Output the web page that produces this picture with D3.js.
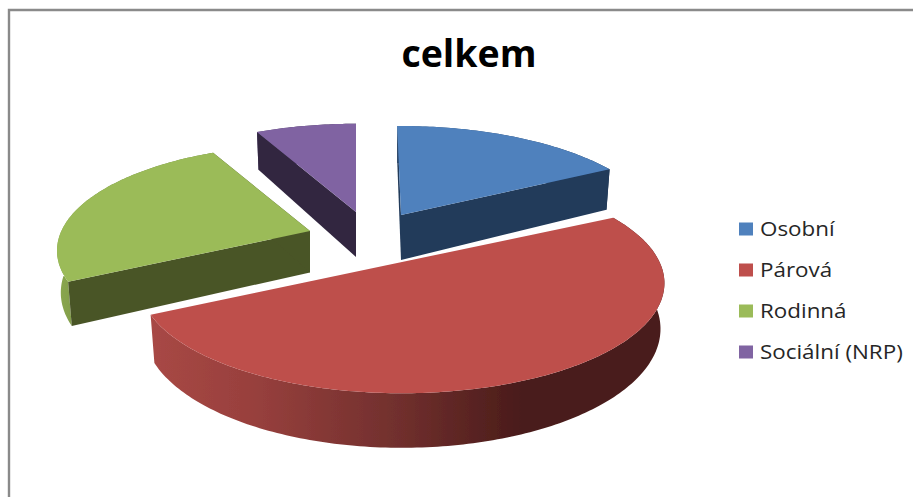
<!DOCTYPE html>
<html><head><meta charset="utf-8">
<script src="https://cdn.jsdelivr.net/npm/d3@7"></script>
<style>html,body{margin:0;padding:0;background:#fff}svg{display:block}</style>
</head><body>
<svg id="c" width="913" height="497"></svg>
<script>
const categories = ["Osobní","Párová","Rodinná","Sociální (NRP)"];
const values = [17.5,50,25,7.5];
const topColors = ["#4F81BD","#BE4F4C","#9BBB59","#8064A2"];
const cutColors = ["#213A5A",null,"#4A5428","#322841"];
const apexes = [[401,215],[402,262],[310,231],[356,212]];
const radiusScale = [1.01,1.01,0.975,1];
const rotationDeg = [0,1,1,1];
const depthScale = [1,1,0.92,1];
const title = "celkem";

const svg = d3.select("#c");
const W=913,H=497, RX=255, RY=105, K=0.19, DEPTH=45, BOTX=0.985;
const FONT="'Open Sans','Noto Sans',sans-serif";

svg.append("path").attr("d",`M${9},${H}V${10}H${W}`).attr("fill","none").attr("stroke","#8a8a8a").attr("stroke-width",2.4);

const defs = svg.append("defs");
defs.append("filter").attr("id","soft").append("feGaussianBlur").attr("stdDeviation",0.5);
function grad(id,x1,x2,stops){
  const g=defs.append("linearGradient").attr("id",id).attr("gradientUnits","userSpaceOnUse")
    .attr("x1",x1).attr("x2",x2).attr("y1",0).attr("y2",0);
  stops.forEach(s=>g.append("stop").attr("offset",s[0]).attr("stop-color",s[1]));
}
grad("w0",380,620,[[0,"#3c6390"],[1,"#1c3250"]]);
grad("w1",150,665,[[0,"#A84845"],[0.2,"#98403D"],[0.5,"#6E2E2C"],[0.72,"#4A1C1A"],[1,"#4A1C1A"]]);
grad("w2",55,110,[[0,"#8CA950"],[1,"#6f8740"]]);
grad("w3",250,360,[[0,"#5f4b7a"],[1,"#322841"]]);

const arcs = d3.pie().sort(null).startAngle(-Math.PI/180).endAngle(2*Math.PI-Math.PI/180)(values);
const line = d3.line();

function proj(i,a){
  const r=radiusScale[i], b=a+rotationDeg[i]*Math.PI/180;
  const u=r*Math.sin(b), v=r*Math.cos(b), s=1/(1+K*v);
  return {x:u*RX*s, y:-v*RY*s, s};
}
const top_=(i,a)=>{const p=proj(i,a);return [apexes[i][0]+p.x,apexes[i][1]+p.y];};
const bot_=(i,a)=>{const p=proj(i,a);return [apexes[i][0]+p.x*BOTX,apexes[i][1]+p.y+DEPTH*depthScale[i]*p.s*0.98];};

const order=[2,3,0,1];
const g=svg.append("g").attr("filter","url(#soft)");
order.forEach(i=>{
  const d=arcs[i], apex=apexes[i];
  const n=Math.max(8,Math.ceil((d.endAngle-d.startAngle)*60));
  const angs=d3.range(n+1).map(k=>d.startAngle+(d.endAngle-d.startAngle)*k/n);
  const slice=g.append("g");
  slice.append("path").attr("d",line(angs.map(a=>top_(i,a)).concat(angs.slice().reverse().map(a=>bot_(i,a))))+"Z")
    .attr("fill",`url(#w${i})`);
  if(cutColors[i]) [d.startAngle,d.endAngle].forEach(a=>{
    slice.append("path").attr("d",line([[apex[0],apex[1]],top_(i,a),bot_(i,a),[apex[0],apex[1]+DEPTH*depthScale[i]]])+"Z")
      .attr("fill",cutColors[i]);
  });
  slice.append("path").attr("d",line([[apex[0],apex[1]]].concat(angs.map(a=>top_(i,a))))+"Z")
    .attr("fill",topColors[i]);
});

svg.append("text").attr("x",469).attr("y",67).attr("text-anchor","middle")
  .attr("font-family",FONT).attr("font-weight",700).attr("font-size",37.5).attr("fill","#000").text(title);

const ly=d3.scalePoint().domain(categories).range([229,352]);
const lg=svg.append("g").selectAll("g").data(categories).join("g").attr("transform",d=>`translate(739,${ly(d)})`);
lg.append("rect").attr("x",0).attr("y",-6.5).attr("width",14).attr("height",13).attr("fill",(d,i)=>topColors[i]);
lg.append("text").attr("transform","translate(21,6.5) scale(1.12,1)").attr("font-family",FONT).attr("font-size",20).attr("fill","#262626").text(d=>d);
</script>
</body></html>
